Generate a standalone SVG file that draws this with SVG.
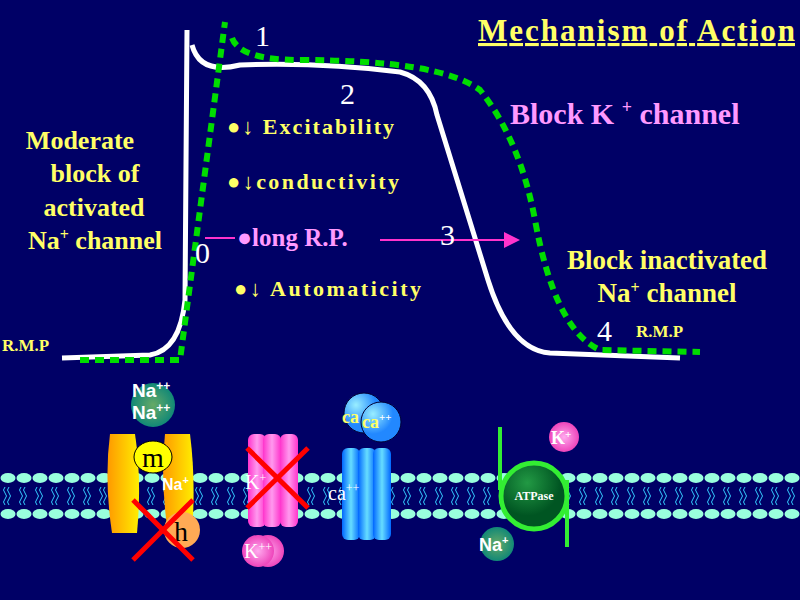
<svg xmlns="http://www.w3.org/2000/svg" width="800" height="600" viewBox="0 0 800 600">
<defs>
<style>
.y{fill:#ffff66;font-family:"Liberation Serif",serif;font-weight:bold}
.p{fill:#ff99ff;font-family:"Liberation Serif",serif;font-weight:bold}
.w{fill:#fff;font-family:"Liberation Serif",serif}
.ws{fill:#fff;font-family:"Liberation Sans",sans-serif;font-weight:bold}
.x{stroke:#ff0000;stroke-width:5}
</style>
<pattern id="bead" width="16" height="50" patternUnits="userSpaceOnUse" x="0" y="470">
<ellipse cx="8" cy="8" rx="7.5" ry="5" fill="#99ffdd"/>
<ellipse cx="8" cy="44" rx="7.5" ry="5" fill="#99ffdd"/>
<path d="M5 17 q-3 3 0 6 q3 3 0 6 M9 17 q-3 3 0 6 q3 3 0 6 M5 29 q-3 3 0 6 M9 29 q-3 3 0 6" stroke="#33ccff" fill="none" stroke-width="1"/>
</pattern>
<linearGradient id="org" x1="0" x2="1"><stop offset="0" stop-color="#ff9900"/><stop offset="1" stop-color="#ffee00"/></linearGradient>
<linearGradient id="pink" x1="0" x2="1"><stop offset="0" stop-color="#ff33cc"/><stop offset="0.5" stop-color="#ff99ee"/><stop offset="1" stop-color="#ff33cc"/></linearGradient>
<linearGradient id="blue" x1="0" x2="1"><stop offset="0" stop-color="#0066ff"/><stop offset="0.5" stop-color="#66ddff"/><stop offset="1" stop-color="#0066ff"/></linearGradient>
<radialGradient id="gr"><stop offset="0" stop-color="#66aa66"/><stop offset="1" stop-color="#118877"/></radialGradient>
<radialGradient id="pk"><stop offset="0" stop-color="#ffaaee"/><stop offset="1" stop-color="#ee44bb"/></radialGradient>
<radialGradient id="cb" cx="0.3" cy="0.3"><stop offset="0" stop-color="#99eeff"/><stop offset="1" stop-color="#2288ff"/></radialGradient>
<radialGradient id="dg" cx="0.4" cy="0.3"><stop offset="0" stop-color="#229944"/><stop offset="1" stop-color="#005522"/></radialGradient>
<marker id="ah" markerWidth="8" markerHeight="8" refX="7" refY="4" orient="auto"><path d="M0 0 L8 4 L0 8 z" fill="#ff33cc"/></marker>
</defs>
<rect width="800" height="600" fill="#000066"/>
<rect x="0" y="470" width="800" height="50" fill="url(#bead)"/>
<g id="curves">
<path d="M62 358 L150 355 Q180 350 185 300 L187 30" fill="none" stroke="#fff" stroke-width="5"/>
<path d="M192 45 Q200 75 240 65 Q320 62 400 72 Q430 80 437 115 L488 280 Q510 350 550 353 L680 358" fill="none" stroke="#fff" stroke-width="5"/>
<path d="M80 360 L180 360 L225 22" fill="none" stroke="#00dd00" stroke-width="6" stroke-dasharray="9,6"/>
<path d="M232 38 Q240 60 300 60 Q440 60 480 90 Q520 140 535 220 Q555 330 600 350 L700 352" fill="none" stroke="#00dd00" stroke-width="6" stroke-dasharray="9,6"/>
<line x1="380" y1="240" x2="518" y2="240" stroke="#ff33cc" stroke-width="2" marker-end="url(#ah)"/>
<line x1="235" y1="238" x2="205" y2="238" stroke="#ff33cc" stroke-width="2"/>
</g>
<g id="labels">
<text x="478" y="41" class="y" font-size="31" text-decoration="underline" textLength="317">Mechanism of Action</text>
<text x="255" y="46" class="w" font-size="30">1</text>
<text x="340" y="104" class="w" font-size="30">2</text>
<text x="440" y="245" class="w" font-size="30">3</text>
<text x="597" y="341" class="w" font-size="30">4</text>
<text x="195" y="263" class="w" font-size="30">0</text>
<text x="510" y="124" class="p" font-size="30">Block K <tspan font-size="18" dy="-11">+</tspan><tspan dy="11"> channel</tspan></text>
<text x="227" y="134" class="y" font-size="22" textLength="167">●↓ Excitability</text>
<text x="227" y="189" class="y" font-size="22" textLength="172">●↓conductivity</text>
<text x="237" y="246" class="p" font-size="25">●long  R.P.</text>
<text x="234" y="296" class="y" font-size="22" textLength="187">●↓ Automaticity</text>
<text x="80" y="149" class="y" font-size="26" text-anchor="middle">Moderate</text>
<text x="95" y="182" class="y" font-size="26" text-anchor="middle">block of</text>
<text x="94" y="216" class="y" font-size="26" text-anchor="middle">activated</text>
<text x="95" y="249" class="y" font-size="26" text-anchor="middle">Na<tspan font-size="16" dy="-9">+</tspan><tspan dy="9"> channel</tspan></text>
<text x="667" y="269" class="y" font-size="27" text-anchor="middle">Block inactivated</text>
<text x="667" y="302" class="y" font-size="27" text-anchor="middle">Na<tspan font-size="16" dy="-9">+</tspan><tspan dy="9"> channel</tspan></text>
<text x="2" y="351" class="y" font-size="17">R.M.P</text>
<text x="636" y="337" class="y" font-size="17">R.M.P</text>
</g>
<g id="na-channel">
<circle cx="153" cy="405" r="22" fill="url(#gr)"/>
<text x="132" y="397" class="ws" font-size="19">Na<tspan font-size="12" dy="-7">++</tspan></text>
<text x="132" y="419" class="ws" font-size="19">Na<tspan font-size="12" dy="-7">++</tspan></text>
<path d="M110 434 L135 434 Q142 480 137 533 L112 533 Q104 480 110 434 Z" fill="url(#org)"/>
<path d="M165 434 L190 434 Q196 480 192 533 L168 533 Q160 480 165 434 Z" fill="url(#org)"/>
<ellipse cx="153" cy="457" rx="19" ry="16" fill="#ffff00" stroke="#000"/>
<text x="153" y="467" class="w" font-size="28" style="fill:#000" text-anchor="middle">m</text>
<text x="162" y="490" class="ws" font-size="16">Na<tspan font-size="11" dy="-6">+</tspan></text>
<circle cx="182" cy="530" r="18" fill="#ffaa55"/>
<text x="181" y="541" class="w" font-size="28" style="fill:#000" text-anchor="middle">h</text>
<line x1="133" y1="500" x2="193" y2="560" class="x"/><line x1="193" y1="500" x2="133" y2="560" class="x"/>
</g>
<g id="k-channel">
<rect x="248" y="434" width="18" height="93" rx="6" fill="url(#pink)"/>
<rect x="263" y="434" width="18" height="93" rx="6" fill="url(#pink)"/>
<rect x="280" y="434" width="18" height="93" rx="6" fill="url(#pink)"/>
<text x="245" y="489" class="w" font-size="20">K<tspan font-size="12" dy="-7">+</tspan></text>
<line x1="247" y1="448" x2="308" y2="508" class="x"/><line x1="308" y1="448" x2="247" y2="508" class="x"/>
<circle cx="268" cy="551" r="16" fill="url(#pk)"/>
<circle cx="258" cy="551" r="16" fill="url(#pk)"/>
<text x="244" y="558" class="w" font-size="20">K<tspan font-size="12" dy="-7">++</tspan></text>
</g>
<g id="ca-channel">
<rect x="342" y="448" width="18" height="92" rx="6" fill="url(#blue)"/>
<rect x="358" y="448" width="18" height="92" rx="6" fill="url(#blue)"/>
<rect x="373" y="448" width="18" height="92" rx="6" fill="url(#blue)"/>
<text x="328" y="500" class="w" font-size="20">ca<tspan font-size="12" dy="-8">++</tspan></text>
<circle cx="364" cy="413" r="20" fill="url(#cb)" stroke="#003"/>
<circle cx="381" cy="422" r="20" fill="url(#cb)" stroke="#003"/>
<text x="342" y="423" class="y" font-size="18">ca</text>
<text x="362" y="428" class="y" font-size="18">ca<tspan font-size="11" dy="-7" style="fill:#fff">++</tspan></text>
</g>
<g id="pump">
<circle cx="534" cy="496" r="33" fill="url(#dg)" stroke="#33ee33" stroke-width="5"/>
<path d="M500 427 L500 490" stroke="#33ee33" stroke-width="4"/>
<path d="M567 480 L567 547" stroke="#33ee33" stroke-width="4"/>
<text x="534" y="500" class="w" font-size="12" font-weight="bold" text-anchor="middle">ATPase</text>
<circle cx="564" cy="437" r="15" fill="url(#pk)"/>
<text x="551" y="444" class="w" font-size="18" font-weight="bold">K<tspan font-size="11" dy="-6">+</tspan></text>
<circle cx="497" cy="544" r="17" fill="url(#gr)"/>
<text x="479" y="551" class="ws" font-size="18">Na<tspan font-size="11" dy="-7">+</tspan></text>
</g>
</svg>
